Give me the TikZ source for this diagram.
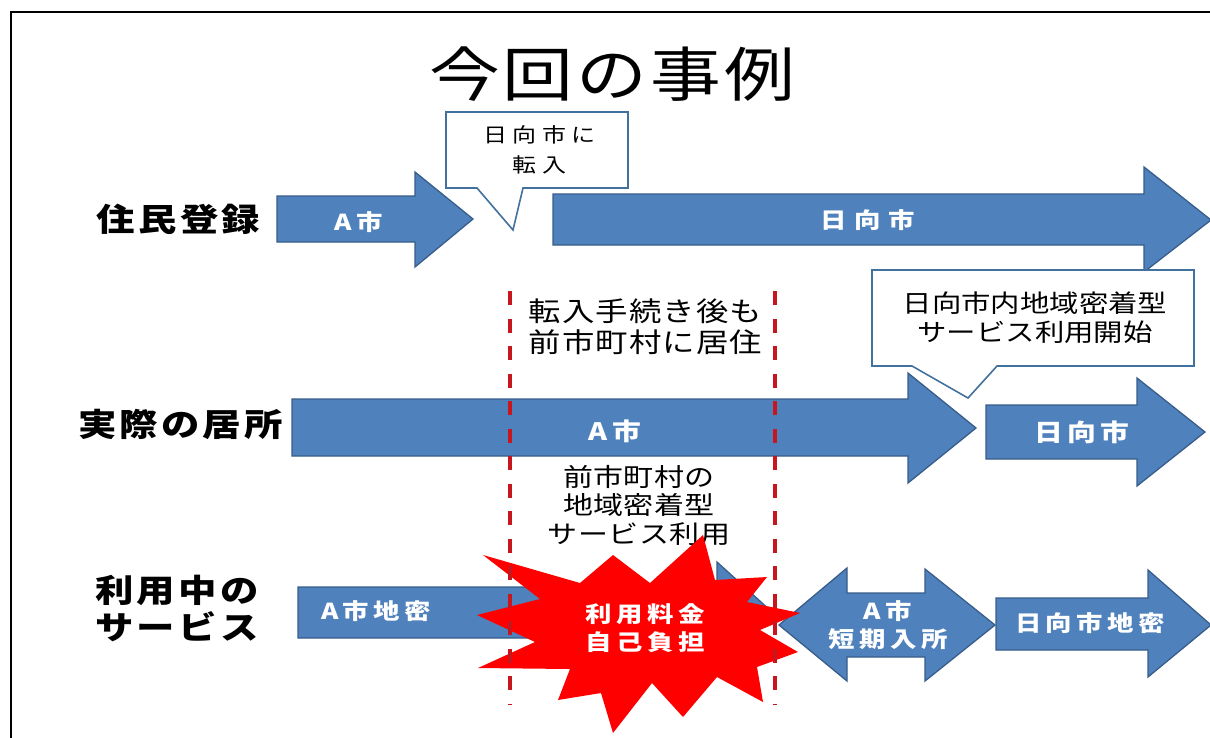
\documentclass[tikz,border=0pt]{standalone}
\usepackage{fontspec}
\newfontfamily\jp[FakeStretch=1.2]{Noto Sans CJK JP}
\definecolor{arrfill}{HTML}{4F81BD}
\definecolor{arrdraw}{HTML}{385D8A}
\definecolor{calldraw}{HTML}{41719C}
\definecolor{dashred}{HTML}{C8161F}
\definecolor{burstred}{HTML}{FF0000}
\tikzset{
  arrowshape/.style={fill=arrfill, draw=arrdraw, line width=1.3pt, line join=miter},
  calloutshape/.style={fill=white, draw=calldraw, line width=1.6pt, line join=miter},
  burstshape/.style={fill=burstred, draw=none},
  dashline/.style={draw=dashred, line width=4.5pt, dash pattern=on 14pt off 13.5pt},
  wlabel/.style={text=white, inner sep=0pt, align=center, font=\jp\bfseries\addfontfeatures{LetterSpace=20}\fontsize{22}{28}\selectfont},
  rowlabel/.style={inner sep=0pt, align=left, font=\jp\bfseries\addfontfeatures{LetterSpace=10}\fontsize{32}{37}\selectfont},
  midtext/.style={inner sep=0pt, align=center},
}
\begin{document}
\begin{tikzpicture}[x=1pt,y=-1pt]
\useasboundingbox (0,0) rectangle (1210,737);
\fill[white] (0,0) rectangle (1210,737);
\begin{scope}
\clip (0,0) rectangle (1210,737);
\draw[line width=2pt] (11,12) rectangle (1230,760);

% title
\node[inner sep=0pt, font=\jp\addfontfeatures{LetterSpace=5}\fontsize{59}{60}\selectfont] (title) at (612,74) {今回の事例};

% row labels
\node[rowlabel] (lab1) at (178.5,219) {住民登録};
\node[rowlabel] (lab2) at (180.5,424) {実際の居所};
\node[rowlabel, anchor=west] (lab3) at (95,608.5) {利用中の\\サービス};

% row 1 arrows
\path[arrowshape] (277,196) -- (415,196) -- (415,172) -- (473,219) -- (415,267) -- (415,242) -- (277,242) -- cycle;
\path[arrowshape] (553,194) -- (1144,194) -- (1144,167) -- (1211,220) -- (1144,272) -- (1144,245) -- (553,245) -- cycle;

% row 2 arrows
\path[arrowshape] (292,399) -- (908,399) -- (908,373) -- (976,428) -- (908,483) -- (908,456) -- (292,456) -- cycle;
\path[arrowshape] (986,405) -- (1137,405) -- (1137,378) -- (1205,432) -- (1137,486) -- (1137,459) -- (986,459) -- cycle;

% row 3 arrows
\path[arrowshape] (298,587) -- (717,587) -- (717,562) -- (772,612) -- (717,662) -- (717,638) -- (298,638) -- cycle;
\path[arrowshape] (779,625) -- (847,568) -- (847,593) -- (925,593) -- (925,569) -- (995,625) -- (925,681) -- (925,657) -- (847,657) -- (847,681) -- cycle;
\path[arrowshape] (996,598) -- (1148,598) -- (1148,570) -- (1211,625) -- (1148,677) -- (1148,650) -- (996,650) -- cycle;

% callouts
\path[calloutshape] (446,112) -- (628,112) -- (628,188) -- (523,188) -- (513,230) -- (477,188) -- (446,188) -- cycle;
\node[midtext, font=\jp\addfontfeatures{LetterSpace=26}\fontsize{20}{30}\selectfont] (call1) at (539.5,150) {日向市に\\転入};
\path[calloutshape] (872,270) -- (1194,270) -- (1194,366) -- (997,366) -- (968,398) -- (912,366) -- (872,366) -- cycle;
\node[midtext, font=\jp\fontsize{24.5}{29}\selectfont] (call2) at (1035,317.5) {日向市内地域密着型\\サービス利用開始};

% middle texts
\node[midtext, font=\jp\addfontfeatures{LetterSpace=4}\fontsize{27}{31}\selectfont] (mid1) at (645.5,327) {転入手続き後も\\前市町村に居住};
\node[midtext, font=\jp\addfontfeatures{LetterSpace=2}\fontsize{25}{28.5}\selectfont] (mid2) at (639,505) {前市町村の\\地域密着型\\サービス利用};

% arrow labels
\node[wlabel] (a1) at (359,222) {A市};
\node[wlabel, font=\jp\bfseries\addfontfeatures{LetterSpace=35}\fontsize{22}{28}\selectfont] (h1) at (868,220) {日向市};
\node[wlabel, font=\jp\bfseries\addfontfeatures{LetterSpace=18}\fontsize{24}{28}\selectfont] (a2) at (615,431) {A市};
\node[wlabel, font=\jp\bfseries\addfontfeatures{LetterSpace=18}\fontsize{24}{28}\selectfont] (h2) at (1082,432) {日向市};
\node[wlabel] (a3) at (376,611) {A市地密};
\node[wlabel] (a4) at (888,625) {A市\\短期入所};
\node[wlabel] (h3) at (1090,623) {日向市地密};

% starburst
\path[burstshape] (483,555) -- (580,583) -- (613,555) -- (650,583) -- (703,535) -- (715,580) -- (767,577) -- (747,602) -- (800,613) -- (760,630) -- (798,652) -- (757,667) -- (763,702) -- (717,677) -- (683,717) -- (652,683) -- (613,733) -- (601,693) -- (558,700) -- (570,669) -- (478,668) -- (535,642) -- (477,615) -- (540,599) -- cycle;

% dashed lines
\coordinate (d1t) at (510,291);
\coordinate (d1b) at (510,704);
\coordinate (d2t) at (775,291);
\coordinate (d2b) at (775,704);
\draw[dashline] (d1t) -- (d1b);
\draw[dashline] (d2t) -- (d2b);

% burst label
\node[wlabel] (burst) at (645,628) {利用料金\\自己負担};
\end{scope}
\end{tikzpicture}
\end{document}
